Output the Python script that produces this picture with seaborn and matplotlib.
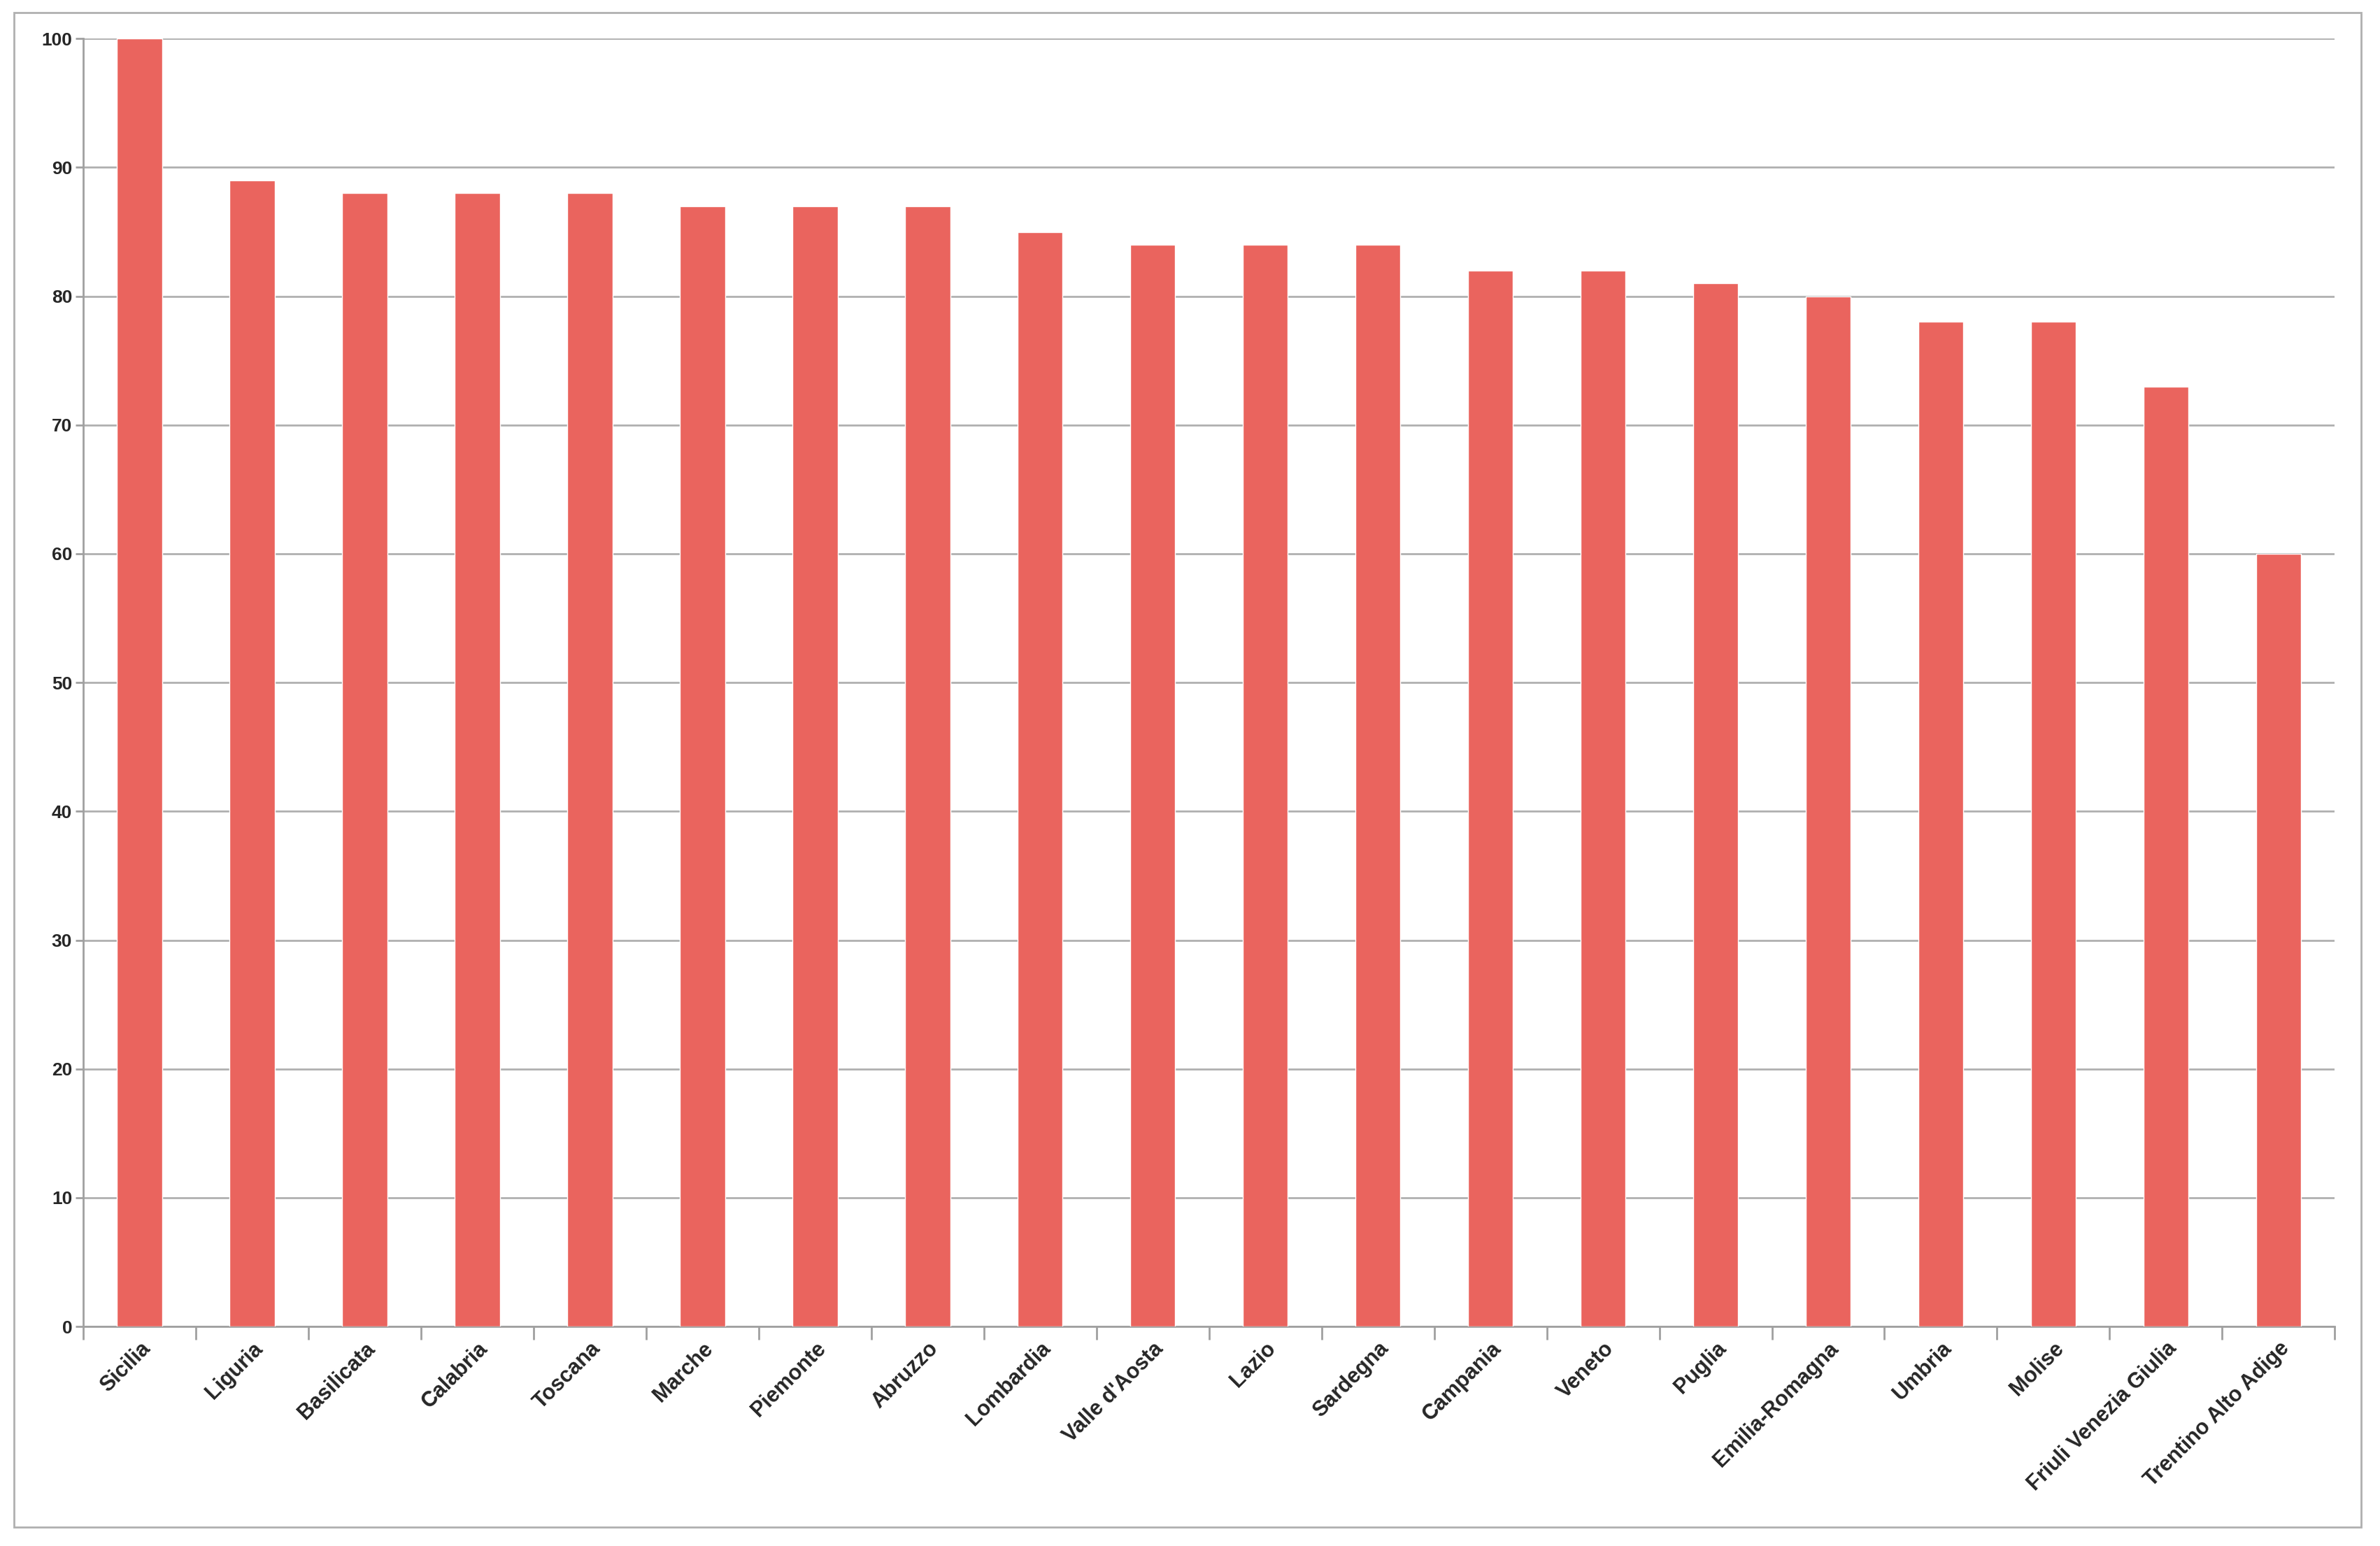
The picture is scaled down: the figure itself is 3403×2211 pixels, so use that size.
import matplotlib
matplotlib.use('Agg')
import matplotlib.pyplot as plt
import seaborn as sns
import numpy as np
import pandas as pd
from matplotlib.patches import Rectangle

regions = ["Sicilia", "Liguria", "Basilicata", "Calabria", "Toscana", "Marche",
           "Piemonte", "Abruzzo", "Lombardia", "Valle d'Aosta", "Lazio", "Sardegna",
           "Campania", "Veneto", "Puglia", "Emilia-Romagna", "Umbria", "Molise",
           "Friuli Venezia Giulia", "Trentino Alto Adige"]
values = [100, 89, 88, 88, 88, 87, 87, 87, 85, 84, 84, 84, 82, 82, 81, 80, 78, 78, 73, 60]

df = pd.DataFrame({"regione": regions, "valore": values})

sns.set_theme(style="white")
plt.rcParams['font.family'] = ['Liberation Sans', 'DejaVu Sans']

fig = plt.figure(figsize=(34.03, 22.11), dpi=100)
ax = fig.add_axes([0.035, 0.142, 0.946, 0.833])

sns.barplot(data=df, x="regione", y="valore", color="#EA645E", saturation=1,
            width=0.4, ax=ax, zorder=3)

ax.set_ylim(0, 100)
ax.set_xlim(-0.5, len(regions) - 0.5)
ax.set_yticks(np.arange(0, 101, 10))
ax.yaxis.grid(True, color="#B0B0B0", linewidth=2, zorder=0)
ax.set_xlabel("")
ax.set_ylabel("")

for s in ["top", "right"]:
    ax.spines[s].set_visible(False)
for s in ["left", "bottom"]:
    ax.spines[s].set_color("#A0A0A0")
    ax.spines[s].set_linewidth(2)

ax.tick_params(axis="y", labelsize=19, length=8, width=2, color="#A0A0A0", left=True)
for t in ax.get_yticklabels():
    t.set_fontweight("bold")
ax.set_xticks(range(len(regions)))
ax.set_xticklabels(regions, rotation=45, ha="right", rotation_mode="anchor",
                   fontsize=22, fontweight="bold")
ax.tick_params(axis="x", length=0, pad=12)
ax.set_xticks(np.arange(-0.5, len(regions), 1), minor=True)
ax.tick_params(axis="x", which="minor", length=14, width=2, color="#A0A0A0", bottom=True)

fig.patches.append(Rectangle((0.006, 0.012), 0.986, 0.98, transform=fig.transFigure,
                             fill=False, edgecolor="#B0B0B0", linewidth=2))

fig.savefig("out.png", dpi=100)
